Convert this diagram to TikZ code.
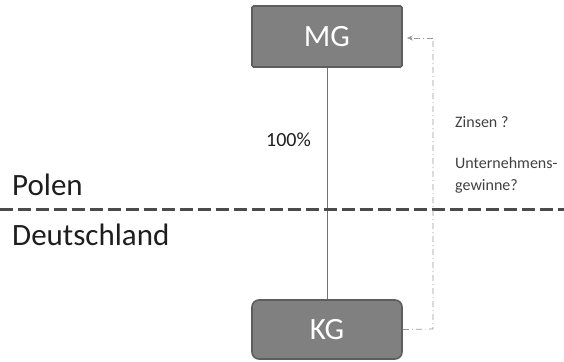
\documentclass[tikz,border=0pt]{standalone}
\usepackage{fontspec}
\setmainfont{Carlito}
\usetikzlibrary{arrows.meta}
\definecolor{boxfill}{HTML}{808080}
\definecolor{boxline}{HTML}{5E5E5E}
\definecolor{txt}{HTML}{1E1E1E}
\begin{document}
\begin{tikzpicture}[x=1pt,y=-1pt,
  entity/.style={draw=boxline,line width=1.6pt,fill=boxfill,minimum width=150pt,minimum height=61pt,text=white,font=\fontsize{31}{36}\selectfont,inner sep=0pt},
  lbl/.style={text=txt,anchor=base west,inner sep=0pt},
  flow/.style={draw=gray!80,line width=0.7pt,dash pattern=on 6pt off 3pt on 1pt off 3pt}]
\useasboundingbox (0,0) rectangle (564,361);
\node[entity,rounded corners=1.5pt] (mg) at (327,36.5) {MG};
\node[entity,rounded corners=7pt,minimum height=59pt] (kg) at (327,329.5) {KG};
\draw[gray!90!black,line width=0.8pt] (mg.south) -- (kg.north);
\draw[boxline!80!black,line width=3pt,dash pattern=on 13pt off 5pt] (0,209) -- (564,209);
\coordinate (top) at (433,38);
\coordinate (bot) at (433,329);
\draw[flow] (kg.east) -- (bot) -- (top);
\draw[flow,-{Stealth[length=6pt,width=5pt]}] (top) -- ([xshift=4pt]mg.east|-top);
\node[lbl,font=\fontsize{31}{36}\selectfont] (polen) at (12,195) {Polen};
\node[lbl,font=\fontsize{31}{36}\selectfont] (de) at (12,245) {Deutschland};
\node[lbl,font=\fontsize{20}{24}\selectfont] (p) at (266,146) {100\%};
\node[lbl,font=\fontsize{16}{19}\selectfont,text=txt!85] (z) at (455,127) {Zinsen ?};
\node[lbl,font=\fontsize{16}{19}\selectfont,text=txt!85] (u) at (455,168) {Unternehmens-};
\node[lbl,font=\fontsize{16}{19}\selectfont,text=txt!85] (g) at (455,190) {gewinne?};
\end{tikzpicture}
\end{document}
